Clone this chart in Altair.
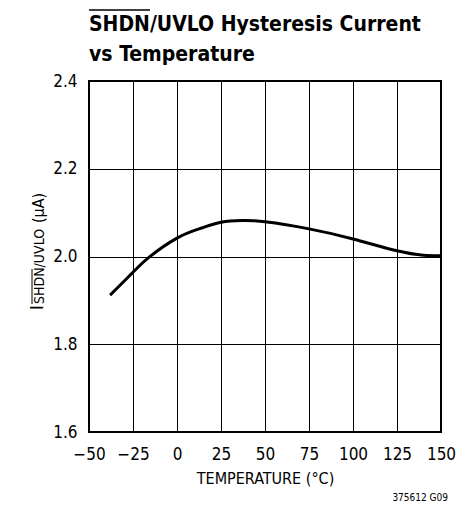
import altair as alt
import pandas as pd

# Data
temperature = [-38, -25, -16, 0, 14, 25, 37, 50, 75, 100, 125, 140, 150]
current_uA = [1.912, 1.964, 1.998, 2.042, 2.065, 2.078, 2.082, 2.079, 2.063, 2.040, 2.013, 2.003, 2.002]

x_ticks = [-50, -25, 0, 25, 50, 75, 100, 125, 150]
y_ticks = [1.6, 1.8, 2.0, 2.2, 2.4]

title_line1 = "SHDN/UVLO Hysteresis Current"
title_line2 = "vs Temperature"
x_title = "TEMPERATURE (°C)"
y_main = "I"
y_sub = "SHDN/UVLO"
y_unit = "(µA)"
footnote = "375612 G09"

FONT = "DejaVu Sans Condensed, Liberation Sans Narrow, sans-serif"

df = pd.DataFrame({"T": temperature, "I": current_uA})

line = alt.Chart(df).mark_line(color="black", strokeWidth=3, interpolate="natural").encode(
    x=alt.X("T:Q", scale=alt.Scale(domain=[-50, 150], nice=False),
            axis=alt.Axis(values=x_ticks, format="d", title=x_title, titleFont=FONT,
                          titleFontSize=16, titleFontWeight="normal", titlePadding=8,
                          labelFont=FONT, labelFontSize=17, labelPadding=14,
                          labelOverlap=False, labelFlush=False,
                          ticks=False, domain=False, grid=True, gridColor="black",
                          gridWidth=1, labelColor="black", titleColor="black")),
    y=alt.Y("I:Q", scale=alt.Scale(domain=[1.6, 2.4], nice=False, zero=False),
            axis=alt.Axis(values=y_ticks, format=".1f", title=None,
                          labelFont=FONT, labelFontSize=17, labelPadding=12,
                          labelOverlap=False, labelFlush=False,
                          ticks=False, domain=False, grid=True, gridColor="black",
                          gridWidth=1, labelColor="black")),
)

one = pd.DataFrame({"k": [0]})


def txt(s, x, y, size, weight="normal", angle=0, align="left", baseline="alphabetic"):
    return alt.Chart(one).mark_text(
        text=s, font=FONT, fontSize=size, fontWeight=weight, angle=angle,
        align=align, baseline=baseline, color="black"
    ).encode(x=alt.value(x), y=alt.value(y))


def hrule(x1, x2, y, w=1.5):
    return alt.Chart(one).mark_rule(color="black", strokeWidth=w).encode(
        x=alt.value(x1), x2=alt.value(x2), y=alt.value(y))


def vrule(x, y1, y2, w=1):
    return alt.Chart(one).mark_rule(color="black", strokeWidth=w).encode(
        x=alt.value(x), y=alt.value(y1), y2=alt.value(y2))


layers = [
    line,
    txt(title_line1, 0, -50, 21, "bold"),
    txt(title_line2, 0, -20, 21, "bold"),
    hrule(0, 61, -71, 1.5),
    txt(y_main, -46, 229, 18, angle=270),
    txt(y_sub, -45, 223, 14, angle=270),
    vrule(-57, 188, 223),
    txt(y_unit, -45, 142, 16, angle=270),
    txt(footnote, 359, 420, 10, align="right"),
]

chart = alt.layer(*layers).properties(
    width=352, height=351,
    autosize=alt.AutoSizeParams(type="none"),
    padding={"left": 81, "top": 73, "right": 20, "bottom": 70},
).configure_view(stroke="black", strokeWidth=2)

chart.save("out.html", embed_options={"renderer": "svg", "actions": False})
